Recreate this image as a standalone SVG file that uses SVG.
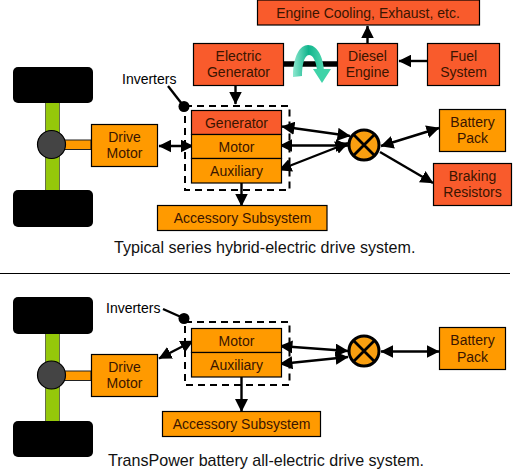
<svg xmlns="http://www.w3.org/2000/svg" width="513" height="475" viewBox="0 0 513 475">
<style>
text{font-family:"Liberation Sans",Arial,sans-serif;fill:#1a0a00}
.b{stroke:#000;stroke-width:1.2}
.o{fill:#ff9a00}
.r{fill:#f95b2c}
.t{font-size:14px;text-anchor:middle;fill:#3a1500}
.c{font-size:16.100px;fill:#111}
.l{font-size:14px;fill:#000}
.w{fill:#000}
.a{fill:#95c80a;stroke:#222;stroke-width:.6}
.s{fill:#ff9a00;stroke:#222;stroke-width:1}
.h{fill:#444;stroke:#000;stroke-width:1.2}
.d{fill:none;stroke:#000;stroke-width:2;stroke-dasharray:7 5}
.k{stroke:#000;stroke-width:2.400;fill:none}
.x{fill:#f99f10;stroke:#000;stroke-width:3}
.y{stroke:#000;stroke-width:2.800}
</style>
<defs>
<marker id="m" viewBox="0 0 12 12" refX="11.500" refY="6" markerWidth="13" markerHeight="13" markerUnits="userSpaceOnUse" orient="auto-start-reverse"><path d="M0 0L12 6L0 12Z" fill="#000"/></marker>
<linearGradient id="g" x1="0" y1="0" x2="1" y2="0"><stop offset="0" stop-color="#8ee8cf"/><stop offset=".5" stop-color="#10b48c"/><stop offset="1" stop-color="#50d8b0"/></linearGradient>
</defs>
<g id="connectors">
<line x1="284" y1="64" x2="338" y2="64" stroke="#000" stroke-width="5.500"/>
<path class="k" marker-end="url(#m)" d="M367.500 43V26"/>
<path class="k" marker-end="url(#m)" d="M427 61H399"/>
<path class="k" marker-end="url(#m)" d="M235.500 85V104"/>
<path class="k" marker-start="url(#m)" marker-end="url(#m)" d="M159 146H193"/>
<path class="k" marker-end="url(#m)" d="M241.500 181V206"/>
<path class="k" marker-start="url(#m)" marker-end="url(#m)" d="M282 126.500L350 136"/>
<path class="k" marker-start="url(#m)" marker-end="url(#m)" d="M280 145.500H348"/>
<path class="k" marker-start="url(#m)" marker-end="url(#m)" d="M279 170L348 143"/>
<path class="k" marker-start="url(#m)" marker-end="url(#m)" d="M381 146L439 128"/>
<path class="k" marker-end="url(#m)" d="M380 152L433 183"/>
<path class="k" d="M168 86L182 104"/>
<path class="k" marker-start="url(#m)" marker-end="url(#m)" d="M159 358.500L193 341"/>
<path class="k" marker-end="url(#m)" d="M241.500 375V411.500"/>
<path class="k" marker-start="url(#m)" marker-end="url(#m)" d="M280 346L348 351"/>
<path class="k" marker-start="url(#m)" marker-end="url(#m)" d="M280 364L348 357"/>
<path class="k" marker-start="url(#m)" marker-end="url(#m)" d="M381 351.500H439"/>
<path class="k" d="M163 309L181 317"/>
<line x1="0" y1="273.500" x2="510" y2="273.500" stroke="#000" stroke-width="1"/>
</g>
<g id="axle-top">
<rect class="a" x="45.500" y="100" width="14" height="92"/>
<rect class="w" x="13" y="67" width="80" height="36" rx="5"/>
<rect class="w" x="13" y="190" width="80" height="37" rx="5"/>
<rect class="s" x="64" y="140" width="27" height="9.500"/>
<circle class="h" cx="51.500" cy="144.500" r="14"/>
</g>
<g id="axle-bottom">
<rect class="a" x="45.500" y="330" width="14" height="95"/>
<rect class="w" x="13" y="297" width="80" height="37" rx="5"/>
<rect class="w" x="13" y="421" width="80" height="36" rx="5"/>
<rect class="s" x="64" y="371" width="27" height="9.500"/>
<circle class="h" cx="51.500" cy="375" r="14"/>
</g>
<g id="engine-cooling"><rect class="b r" x="257.500" y="0" width="222" height="25"/><text class="t" x="368" y="17.500">Engine Cooling, Exhaust, etc.</text></g>
<g id="electric-generator"><rect class="b r" x="193.500" y="43.500" width="90" height="42"/><text class="t" x="238.500" y="60.500">Electric</text><text class="t" x="238.500" y="77">Generator</text></g>
<g id="diesel-engine"><rect class="b r" x="337.500" y="43.500" width="60" height="42"/><text class="t" x="367.500" y="60.500">Diesel</text><text class="t" x="367.500" y="77">Engine</text></g>
<g id="fuel-system"><rect class="b r" x="427.500" y="43.500" width="72" height="42"/><text class="t" x="463.500" y="60.500">Fuel</text><text class="t" x="463.500" y="77">System</text></g>
<g id="rotation"><path d="M293 77C293 56 300 45 308 45C317 45 323 56 324 70L317 70C316 61 313 55 309 55C304 55 302 66 302 76Z" fill="url(#g)"/><path d="M313 69L331 69L322 83Z" fill="#3fd3a8"/></g>
<g id="drive-motor-top"><rect class="b o" x="91.500" y="124.500" width="66" height="42"/><text class="t" x="124.500" y="142">Drive</text><text class="t" x="124.500" y="158">Motor</text></g>
<g id="inverters-top">
<rect class="d" x="185" y="106" width="104.500" height="84"/>
<rect class="b r" x="191.500" y="110.500" width="90" height="24"/><text class="t" x="236.500" y="128">Generator</text>
<rect class="b o" x="191.500" y="134.500" width="90" height="24"/><text class="t" x="236.500" y="152">Motor</text>
<rect class="b o" x="191.500" y="158.500" width="90" height="24.500"/><text class="t" x="236.500" y="176">Auxiliary</text>
<circle cx="184" cy="106.500" r="5.500" fill="#000"/>
<text class="l" x="122" y="84">Inverters</text>
</g>
<g id="accessory-top"><rect class="b o" x="157.500" y="205.500" width="169.500" height="25"/><text class="t" x="242.500" y="222.500">Accessory Subsystem</text></g>
<g id="junction-top"><circle class="x" cx="364" cy="145" r="15"/><path class="y" d="M353.500 134.500L374.500 155.500M374.500 134.500L353.500 155.500"/></g>
<g id="battery-top"><rect class="b o" x="439.500" y="109.500" width="66" height="42"/><text class="t" x="472.500" y="127">Battery</text><text class="t" x="472.500" y="143">Pack</text></g>
<g id="braking"><rect class="b r" x="433.500" y="163.500" width="78" height="42"/><text class="t" x="472.500" y="181">Braking</text><text class="t" x="472.500" y="197">Resistors</text></g>
<text class="c" x="114" y="253">Typical series hybrid-electric drive system.</text>
<g id="drive-motor-bottom"><rect class="b o" x="91.500" y="354.500" width="66" height="42"/><text class="t" x="124.500" y="372">Drive</text><text class="t" x="124.500" y="388">Motor</text></g>
<g id="inverters-bottom">
<rect class="d" x="185" y="322" width="104.500" height="63"/>
<rect class="b o" x="191.500" y="328.500" width="90" height="24"/><text class="t" x="236.500" y="346">Motor</text>
<rect class="b o" x="191.500" y="352.500" width="90" height="24.500"/><text class="t" x="236.500" y="370">Auxiliary</text>
<circle cx="184" cy="318.500" r="5.500" fill="#000"/>
<text class="l" x="106" y="313">Inverters</text>
</g>
<g id="accessory-bottom"><rect class="b o" x="162.500" y="411.500" width="158" height="25"/><text class="t" x="241.500" y="429">Accessory Subsystem</text></g>
<g id="junction-bottom"><circle class="x" cx="364" cy="351" r="15"/><path class="y" d="M353.500 340.500L374.500 361.500M374.500 340.500L353.500 361.500"/></g>
<g id="battery-bottom"><rect class="b o" x="439.500" y="327.500" width="66" height="42"/><text class="t" x="472.500" y="345">Battery</text><text class="t" x="472.500" y="362">Pack</text></g>
<text class="c" x="108" y="466">TransPower battery all-electric drive system.</text>
</svg>
